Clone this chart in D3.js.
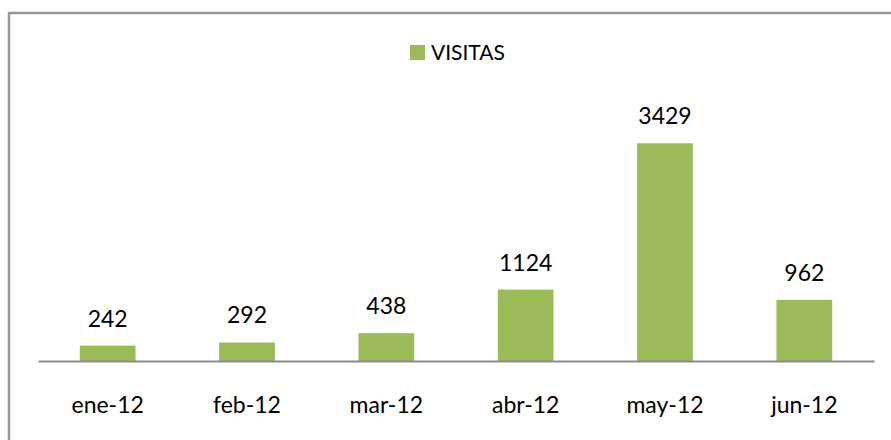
<!DOCTYPE html>
<html>
<head>
<meta charset="utf-8">
<script src="https://cdn.jsdelivr.net/npm/d3@7"></script>
<style>
  body { margin: 0; background: #fff; }
  text { font-family: Lato, "Open Sans", sans-serif; fill: #000; }
</style>
</head>
<body>
<svg id="chart" width="891" height="440"></svg>
<script>
// months and visits
var months = ["ene-12", "feb-12", "mar-12", "abr-12", "may-12", "jun-12"];
var visitas = [242, 292, 438, 1124, 3429, 962];
var seriesName = "VISITAS";

var barColor = "#9BBB59";
var svg = d3.select("#chart");

// outer frame (runs past the right and bottom edges)
svg.append("rect")
  .attr("x", 9).attr("y", 13)
  .attr("width", 900).attr("height", 450)
  .attr("fill", "none")
  .attr("stroke", "#969696")
  .attr("stroke-width", 2.5);

var x = d3.scaleBand()
  .domain(months)
  .range([38, 874])
  .paddingInner(0.6)
  .paddingOuter(0.3);

var y = d3.scaleLinear()
  .domain([0, 4000])
  .range([361, 107]);

svg.selectAll("rect.bar")
  .data(visitas)
  .enter()
  .append("rect")
  .attr("class", "bar")
  .attr("x", function(d, i) { return x(months[i]); })
  .attr("y", function(d) { return y(d); })
  .attr("width", x.bandwidth())
  .attr("height", function(d) { return y(0) - y(d); })
  .attr("fill", barColor);

svg.selectAll("text.val")
  .data(visitas)
  .enter()
  .append("text")
  .attr("class", "val")
  .attr("x", function(d, i) { return x(months[i]) + x.bandwidth() / 2; })
  .attr("y", function(d) { return y(d) - 19; })
  .attr("text-anchor", "middle")
  .style("font-size", "23px")
  .text(function(d) { return d; });

// category axis
var axis = svg.append("g")
  .attr("transform", "translate(0," + y(0) + ")")
  .call(d3.axisBottom(x).tickSize(0).tickPadding(0));
axis.select(".domain").attr("stroke", "#8c8c8c").attr("stroke-width", 2);
axis.selectAll(".tick text")
  .attr("dy", 0)
  .attr("y", 52)
  .style("font-size", "23px")
  .style("font-family", "Lato, 'Open Sans', sans-serif");

// legend
var legend = svg.append("g");
legend.append("rect")
  .attr("x", 410).attr("y", 45)
  .attr("width", 15).attr("height", 15)
  .attr("fill", barColor);
legend.append("text")
  .attr("x", 431).attr("y", 60)
  .style("font-size", "21px")
  .text(seriesName);
</script>
</body>
</html>
